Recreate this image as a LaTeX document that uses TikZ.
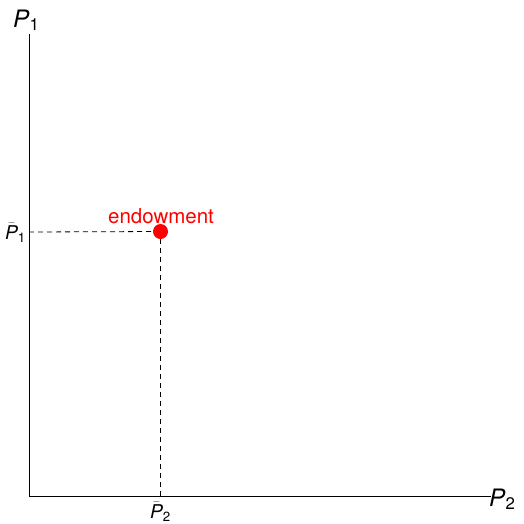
\documentclass[tikz,border=0pt]{standalone}
\usepackage{fontspec}
\setmainfont{TeX Gyre Heros}
\begin{document}
\begin{tikzpicture}[x=1pt,y=-1pt,
  axis/.style={line width=0.8pt},
  guide/.style={line width=0.8pt,dash pattern=on 5pt off 4pt},
  biglab/.style={font=\fontsize{24}{24}\selectfont,inner sep=0pt},
  smalllab/.style={font=\fontsize{19}{19}\selectfont,inner sep=0pt},
  endow/.style={circle,fill=red,minimum size=15pt,inner sep=0pt}]
\useasboundingbox (0,0) rectangle (524,523);
\coordinate (O) at (29,496);
\coordinate (ytop) at (29,34);
\coordinate (xend) at (491,496);
\coordinate (yb) at (29,232);
\coordinate (xb) at (160.5,496);
\draw[axis] (ytop) -- (O) -- (xend);
\node[biglab,anchor=base west] (p1) at (13,27) {\textit{P}$_{\mathrm{1}}$};
\node[biglab,anchor=base west] (p2) at (489,506) {\textit{P}$_{\mathrm{2}}$};
\node[endow] (e) at (160.5,231.5) {};
\draw[guide] (yb) -- (e);
\draw[guide] (e) -- (xb);
\node[smalllab,anchor=base east] (pb1) at (26,239) {$\bar{\textit{P}}_{\mathrm{1}}$};
\node[smalllab,anchor=base] (pb2) at (160.5,518) {$\bar{\textit{P}}_{\mathrm{2}}$};
\node[font=\fontsize{20.5}{20.5}\selectfont,text=red,inner sep=0pt,anchor=base] (lab) at (161,223) {endowment};
\end{tikzpicture}
\end{document}
